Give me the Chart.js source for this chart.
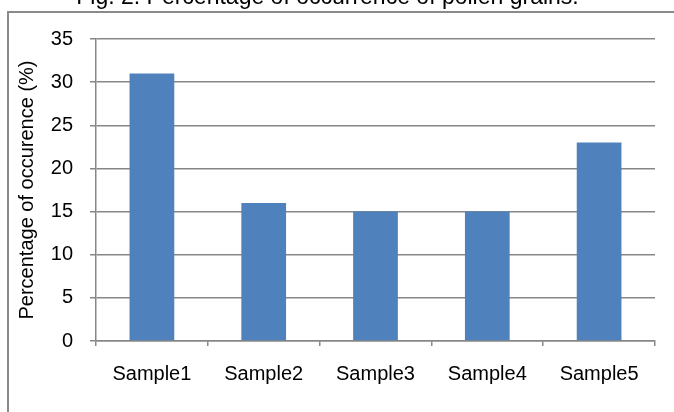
<!DOCTYPE html>
<html lang="en">
<head>
    <meta charset="UTF-8">
    <title>Fig. 2</title>
    <script src="https://cdn.jsdelivr.net/npm/chart.js"></script>
    <style>
        html, body { margin: 0; padding: 0; background: #fff; overflow: hidden; }
        #frame { position: absolute; left: 7px; top: 11px; width: 720px; height: 480px; border: 2px solid #8a8a8a; }
        #wrap { position: absolute; left: 0; top: -16px; width: 674px; height: 428px; }
    </style>
</head>
<body>
    <div id="frame"></div>
    <div id="wrap"><canvas id="chart" width="674" height="428"></canvas></div>

    <script>
        // Data
        const samples = ['Sample1', 'Sample2', 'Sample3', 'Sample4', 'Sample5'];
        const occurrence = [31, 16, 15, 15, 23];
        const yTicks = [0, 5, 10, 15, 20, 25, 30, 35];

        const gray = '#878787';
        const font = 'Liberation Sans, Arial, sans-serif';

        new Chart(document.getElementById('chart'), {
            type: 'bar',
            data: {
                labels: samples,
                datasets: [{
                    label: 'Percentage of occurence (%)',
                    data: occurrence,
                    backgroundColor: '#4F81BD',
                    barPercentage: 0.4,
                    categoryPercentage: 1.0
                }]
            },
            options: {
                responsive: false,
                animation: false,
                layout: { padding: { left: 0, right: 19, top: 0, bottom: 0 } },
                scales: {
                    x: {
                        grid: { display: true, drawOnChartArea: false, color: gray, lineWidth: 1.5, tickLength: 5 },
                        border: { display: true, color: gray, width: 1.5 },
                        ticks: { color: '#000', padding: 16, font: { family: font, size: 20 } },
                        afterFit: s => { s.height = 71; }
                    },
                    y: {
                        min: 0,
                        max: yTicks[yTicks.length - 1],
                        afterBuildTicks: s => { s.ticks = yTicks.map(v => ({ value: v })); },
                        grid: { color: gray, lineWidth: 1.5, tickLength: 6 },
                        border: { display: true, color: gray, width: 1.5 },
                        ticks: { color: '#000', padding: 17, font: { family: font, size: 20 } },
                        title: {
                            display: true,
                            text: 'Percentage of occurence (%)',
                            color: '#000',
                            padding: { top: 15, bottom: 0 },
                            font: { family: font, size: 20 }
                        },
                        afterFit: s => { s.width = 96; }
                    }
                },
                plugins: {
                    legend: { display: false },
                    tooltip: { enabled: false },
                    title: {
                        display: true,
                        text: 'Fig. 2: Percentage of occurrence of pollen grains.',
                        color: '#000',
                        padding: { top: 0, bottom: 27.4 },
                        font: { family: font, size: 23, weight: 'normal' }
                    }
                }
            }
        });
    </script>
</body>
</html>
